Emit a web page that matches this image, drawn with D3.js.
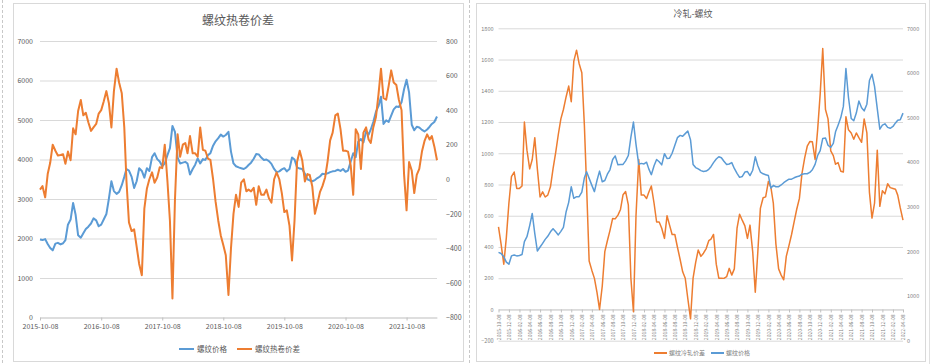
<!DOCTYPE html>
<html>
<head>
<meta charset="utf-8">
<script src="https://cdn.jsdelivr.net/npm/d3@7"></script>
<style>
  body { margin: 0; background: #fff; }
  svg { display: block; font-family: "Noto Sans CJK SC", "Noto Sans", sans-serif; }
</style>
</head>
<body>
<div id="chart"></div>
<script>
// semi-monthly sample dates (8th and 23rd)
const dates = [
  "2015-10-08","2015-10-23","2015-11-08","2015-11-23","2015-12-08","2015-12-23",
  "2016-01-08","2016-01-23","2016-02-08","2016-02-23","2016-03-08","2016-03-23","2016-04-08","2016-04-23","2016-05-08","2016-05-23","2016-06-08","2016-06-23",
  "2016-07-08","2016-07-23","2016-08-08","2016-08-23","2016-09-08","2016-09-23","2016-10-08","2016-10-23","2016-11-08","2016-11-23","2016-12-08","2016-12-23",
  "2017-01-08","2017-01-23","2017-02-08","2017-02-23","2017-03-08","2017-03-23","2017-04-08","2017-04-23","2017-05-08","2017-05-23","2017-06-08","2017-06-23",
  "2017-07-08","2017-07-23","2017-08-08","2017-08-23","2017-09-08","2017-09-23","2017-10-08","2017-10-23","2017-11-08","2017-11-23","2017-12-08","2017-12-23",
  "2018-01-08","2018-01-23","2018-02-08","2018-02-23","2018-03-08","2018-03-23","2018-04-08","2018-04-23","2018-05-08","2018-05-23","2018-06-08","2018-06-23",
  "2018-07-08","2018-07-23","2018-08-08","2018-08-23","2018-09-08","2018-09-23","2018-10-08","2018-10-23","2018-11-08","2018-11-23","2018-12-08","2018-12-23",
  "2019-01-08","2019-01-23","2019-02-08","2019-02-23","2019-03-08","2019-03-23","2019-04-08","2019-04-23","2019-05-08","2019-05-23","2019-06-08","2019-06-23",
  "2019-07-08","2019-07-23","2019-08-08","2019-08-23","2019-09-08","2019-09-23","2019-10-08","2019-10-23","2019-11-08","2019-11-23","2019-12-08","2019-12-23",
  "2020-01-08","2020-01-23","2020-02-08","2020-02-23","2020-03-08","2020-03-23","2020-04-08","2020-04-23","2020-05-08","2020-05-23","2020-06-08","2020-06-23",
  "2020-07-08","2020-07-23","2020-08-08","2020-08-23","2020-09-08","2020-09-23","2020-10-08","2020-10-23","2020-11-08","2020-11-23","2020-12-08","2020-12-23",
  "2021-01-08","2021-01-23","2021-02-08","2021-02-23","2021-03-08","2021-03-23","2021-04-08","2021-04-23","2021-05-08","2021-05-23","2021-06-08","2021-06-23",
  "2021-07-08","2021-07-23","2021-08-08","2021-08-23","2021-09-08","2021-09-23","2021-10-08","2021-10-23","2021-11-08","2021-11-23","2021-12-08","2021-12-23",
  "2022-01-08","2022-01-23","2022-02-08","2022-02-23","2022-03-08","2022-03-23","2022-04-08"
];

// left chart: 螺纹价格 (left axis) and 螺纹热卷价差 (right axis)
const rebarPriceLeft = [
  1975, 1960, 1985, 1860, 1760, 1700,
  1870, 1890, 1850, 1880, 1960, 2350, 2480, 2900, 2600, 2080, 2020, 2130, 2240, 2300, 2380, 2510, 2460, 2310, 2350, 2480, 2620, 3010, 3450, 3200,
  3130, 3180, 3350, 3560, 3760, 3720, 3560, 3280, 3450, 3780, 3710, 3540, 3780, 3710, 4060, 4160, 4010, 3950, 3830, 3900, 4110, 4290, 4850, 4700,
  4050, 3900, 3920, 3940, 3900, 3620, 3760, 3870, 4030, 3900, 4010, 3990, 4110, 4160, 4350, 4460, 4540, 4630, 4580, 4620, 4700, 4200, 3900, 3830,
  3800, 3780, 3760, 3800, 3860, 3920, 4020, 4140, 4130, 4050, 3990, 4000, 3960, 3890, 3760, 3680, 3700, 3750, 3780, 3700, 3760, 4050, 4000, 3800,
  3770, 3760, 3640, 3500, 3470, 3450, 3480, 3530, 3570, 3640, 3630, 3650, 3680, 3700, 3710, 3740, 3710, 3760, 3690, 3720, 3950, 4160, 4060, 4450,
  4520, 4430, 4710, 4630, 4760, 4950, 5210, 5350, 5590, 4900, 4990, 4950, 5110, 5270, 5340, 5330, 5450, 5780, 6020, 5700, 4880, 4740, 4830, 4810,
  4750, 4710, 4760, 4830, 4900, 4950, 5090
];
const hotCoilSpread = [
  -60, -40, -105, 30, 95, 200,
  165, 138, 140, 145, 90, 160, 110, 295, 260, 395, 459, 370, 385, 330, 280, 300, 320, 380, 400, 450, 510, 440, 300, 510,
  640, 560, 497, 300, -10, -250, -300, -290, -390, -490, -555, -170, -55, 0, 40, -20, 10, 70, 64, 200, -10, -240, -690, -120,
  260, 130, 200, 210, 150, 250, 150, 150, 130, 300, 170, 165, 120, 112, 0, -130, -240, -325, -380, -440, -670, -400, -200, -90,
  -160, -20, 0, -70, -60, -70, -50, -148, -40, -90, -90, -60, -110, -135, 0, 40, 0, -80, -190, -180, -270, -470, -240, 100,
  165, 110, -13, 30, 25, -40, -200, -140, -75, -40, 10, 105, 225, 270, 370, 380, 290, 165, 165, 160, 80, -90, 290, 260,
  60, 270, 300, 230, 210, 300, 360, 490, 640, 470, 460, 540, 630, 560, 545, 460, 400, 30, -180, 100, 50, -80, 25, 60,
  160, 220, 260, 230, 250, 190, 110
];

// right chart: 螺纹冷轧价差 (left axis) and 螺纹价格 (right axis)
const coldRollSpread = [
  529, 420, 290, 460, 680, 850,
  880, 775, 775, 790, 1200, 1020, 900, 960, 1100, 900, 720, 753, 720, 732, 785, 900, 1008, 1120, 1220, 1280, 1362, 1430, 1330, 1590,
  1660, 1575, 1515, 1180, 790, 310, 250, 199, 110, 0, 150, 370, 440, 505, 583, 580, 604, 640, 735, 755, 670, 200, -15, 600,
  960, 732, 732, 710, 750, 790, 680, 560, 560, 520, 455, 600, 540, 480, 480, 400, 320, 241, 200, 70, -60, 200, 300, 380,
  340, 360, 390, 440, 450, 480, 290, 200, 200, 199, 210, 263, 220, 260, 520, 610, 570, 535, 455, 540, 369, 110, 369, 647,
  715, 721, 820, 780, 680, 420, 260, 220, 190, 340, 410, 480, 561, 640, 711, 870, 970, 1045, 1075, 1074, 960, 1150, 1380, 1670,
  1280, 1220, 1015, 985, 930, 940, 885, 880, 1234, 1150, 1130, 1090, 1130, 1100, 1070, 1220, 1130, 750, 585, 680, 1020, 660, 760, 740,
  805, 780, 775, 770, 732, 650, 572
];
const rebarPriceRight = [
  1979, 1955, 1880, 1760, 1715, 1900,
  1920, 1900, 1910, 1930, 2220, 2330, 2580, 2850, 2400, 2010, 2100, 2180, 2270, 2340, 2440, 2510, 2440, 2370, 2450, 2540, 2890, 3100, 3450, 3190,
  3226, 3226, 3330, 3650, 3786, 3637, 3480, 3340, 3590, 3800, 3562, 3590, 3730, 3830, 4060, 4140, 3940, 3950, 3950, 4030, 4150, 4560, 4900, 4400,
  3950, 3973, 3960, 4000, 3850, 3720, 3920, 4060, 4010, 3940, 4190, 4085, 4090, 4200, 4380, 4550, 4600, 4580, 4640, 4700, 4500, 3950, 3880, 3850,
  3810, 3790, 3800, 3840, 3900, 3990, 4070, 4122, 4100, 4020, 3950, 3960, 3990, 3860, 3750, 3660, 3680, 3780, 3790, 3700, 3820, 4120, 3920, 3780,
  3740, 3720, 3700, 3420, 3480, 3450, 3450, 3490, 3540, 3580, 3620, 3620, 3650, 3674, 3690, 3730, 3740, 3740, 3770, 3830, 3950, 4150, 4260, 4533,
  4540, 4380, 4330, 4420, 4680, 4830, 5000, 5250, 6100, 5450, 4980, 4930, 5100, 5370, 5220, 5150, 5300, 5830, 5970, 5700, 5200, 4740, 4830, 4860,
  4780, 4760, 4800, 4880, 4940, 4950, 5100
];

// tick labels
const leftXTicks = ["2015-10-08","2016-10-08","2017-10-08","2018-10-08","2019-10-08","2020-10-08","2021-10-08"];
const rightXTicks = [
  "2015-10-08","2015-12-08",
  "2016-02-08","2016-04-08","2016-06-08","2016-08-08","2016-10-08","2016-12-08",
  "2017-02-08","2017-04-08","2017-06-08","2017-08-08","2017-10-08","2017-12-08",
  "2018-02-08","2018-04-08","2018-06-08","2018-08-08","2018-10-08","2018-12-08",
  "2019-02-08","2019-04-08","2019-06-08","2019-08-08","2019-10-08","2019-12-08",
  "2020-02-08","2020-04-08","2020-06-08","2020-08-08","2020-10-08","2020-12-08",
  "2021-02-08","2021-04-08","2021-06-08","2021-08-08","2021-10-08","2021-12-08",
  "2022-02-08","2022-04-08"
];
const leftChartTicksL = [0, 1000, 2000, 3000, 4000, 5000, 6000, 7000];
const leftChartTicksR = [-800, -600, -400, -200, 0, 200, 400, 600, 800];
const rightChartTicksL = [-200, 0, 200, 400, 600, 800, 1000, 1200, 1400, 1600, 1800];
const rightChartTicksR = [0, 1000, 2000, 3000, 4000, 5000, 6000, 7000];

const parse = d3.timeParse("%Y-%m-%d");
const fmt = d3.timeFormat("%Y-%m-%d");
const numFmt = d3.format("d");
const dateObjs = dates.map(parse);
const blue = "#5b9bd5", orange = "#ed7d31";

const svg = d3.select("#chart").append("svg")
    .attr("width", 934)
    .attr("height", 364);

// dashed outer border round the left picture
[2.5, 469.5].forEach(xx => {
    svg.append("line")
        .attr("x1", xx).attr("x2", xx).attr("y1", 0).attr("y2", 364)
        .attr("stroke", "#c8c8c8")
        .attr("stroke-dasharray", "3,2");
});
svg.append("line")
    .attr("x1", 929.5).attr("x2", 929.5).attr("y1", 0).attr("y2", 364)
    .attr("stroke", "#e0e0e0");

function drawPanel(p) {
    const g = svg.append("g");

    g.append("rect")
        .attr("x", p.frame[0]).attr("y", p.frame[1])
        .attr("width", p.frame[2]).attr("height", p.frame[3])
        .attr("fill", "#fff")
        .attr("stroke", "#d9d9d9");

    const x = d3.scaleTime()
        .domain([dateObjs[0], dateObjs[dateObjs.length - 1]])
        .range([p.left, p.right]);
    const yL = d3.scaleLinear().domain(p.leftDomain).range([p.bottom, p.top]);
    const yR = d3.scaleLinear().domain(p.rightDomain).range([p.bottom, p.top]);

    // gridlines + left labels
    g.append("g")
        .attr("transform", `translate(${p.left},0)`)
        .call(d3.axisLeft(yL).tickValues(p.ticksL).tickFormat(numFmt).tickSize(-(p.right - p.left)).tickPadding(p.padL))
        .call(s => s.attr("font-family", null).attr("font-size", p.tickFont))
        .call(s => s.select(".domain").remove())
        .call(s => s.selectAll("line").attr("stroke", "#d9d9d9"))
        .call(s => s.selectAll("text").attr("fill", p.textColor));

    // right labels
    g.append("g")
        .attr("transform", `translate(${p.right},0)`)
        .call(d3.axisRight(yR).tickValues(p.ticksR).tickFormat(numFmt).tickSize(0).tickPadding(p.padR))
        .call(s => s.attr("font-family", null).attr("font-size", p.tickFont))
        .call(s => s.select(".domain").remove())
        .call(s => s.selectAll("text").attr("fill", p.textColor));

    // category axis
    const xAxis = g.append("g")
        .attr("transform", `translate(0,${yL(0)})`)
        .call(d3.axisBottom(x).tickValues(p.xTicks.map(parse)).tickFormat(fmt).tickSizeInner(3).tickSizeOuter(0).tickPadding(p.xPad))
        .call(s => s.attr("font-family", null).attr("font-size", p.xFont))
        .call(s => s.select(".domain").attr("stroke", "#d0d0d0"))
        .call(s => s.selectAll(".tick line").attr("stroke", "#c0c0c0"))
        .call(s => s.selectAll("text").attr("fill", p.textColor));
    if (p.rotate) {
        xAxis.selectAll("text")
            .attr("y", 0)
            .attr("x", -5)
            .attr("dy", "0.35em")
            .attr("transform", "rotate(-90)")
            .style("text-anchor", "end");
    }

    // series
    p.series.forEach(s => {
        const y = s.axis === "left" ? yL : yR;
        g.append("path")
            .datum(s.values)
            .attr("fill", "none")
            .attr("stroke", s.color)
            .attr("stroke-width", p.lineWidth)
            .attr("stroke-linejoin", "round")
            .attr("d", d3.line().x((d, i) => x(dateObjs[i])).y(d => y(d)));
    });

    // title
    g.append("text")
        .attr("x", p.title[1]).attr("y", p.title[2])
        .attr("text-anchor", "middle")
        .attr("font-size", p.title[3])
        .attr("fill", "#595959")
        .text(p.title[0]);

    // handmade legend
    p.legend.forEach(l => {
        g.append("line")
            .attr("x1", l.x1).attr("x2", l.x2)
            .attr("y1", p.legendY).attr("y2", p.legendY)
            .attr("stroke", l.color)
            .attr("stroke-width", 2);
        g.append("text")
            .attr("x", l.tx).attr("y", p.legendY)
            .attr("dy", "0.35em")
            .attr("font-size", p.legendFont)
            .attr("fill", p.textColor)
            .text(l.label);
    });
}

drawPanel({
    frame: [13.5, 3.5, 450, 358],
    left: 40, right: 437, top: 41, bottom: 317.5,
    leftDomain: [0, 7000], rightDomain: [-800, 800],
    ticksL: leftChartTicksL, ticksR: leftChartTicksR,
    padL: 7, padR: 9, tickFont: 7,
    xTicks: leftXTicks, xFont: 7, xPad: 4, rotate: false,
    textColor: "#595959",
    lineWidth: 2,
    title: ["螺纹热卷价差", 238, 25, 12],
    legendY: 349, legendFont: 7.5,
    legend: [
        { color: blue, x1: 179, x2: 194, tx: 197, label: "螺纹价格" },
        { color: orange, x1: 237, x2: 252, tx: 255, label: "螺纹热卷价差" }
    ],
    series: [
        { values: rebarPriceLeft, color: blue, axis: "left" },
        { values: hotCoilSpread, color: orange, axis: "right" }
    ]
});

drawPanel({
    frame: [476.5, 3.5, 449, 358],
    left: 498.5, right: 903, top: 28.3, bottom: 340.7,
    leftDomain: [-200, 1800], rightDomain: [0, 7000],
    ticksL: rightChartTicksL, ticksR: rightChartTicksR,
    padL: 5, padR: 4, tickFont: 5.5,
    xTicks: rightXTicks, xFont: 5, xPad: 2, rotate: true,
    textColor: "#7f7f7f",
    lineWidth: 1.5,
    title: ["冷轧-螺纹", 693, 17, 9],
    legendY: 353, legendFont: 6,
    legend: [
        { color: orange, x1: 654, x2: 667, tx: 669, label: "螺纹冷轧价差" },
        { color: blue, x1: 711, x2: 724, tx: 726, label: "螺纹价格" }
    ],
    series: [
        { values: coldRollSpread, color: orange, axis: "left" },
        { values: rebarPriceRight, color: blue, axis: "right" }
    ]
});
</script>
</body>
</html>
